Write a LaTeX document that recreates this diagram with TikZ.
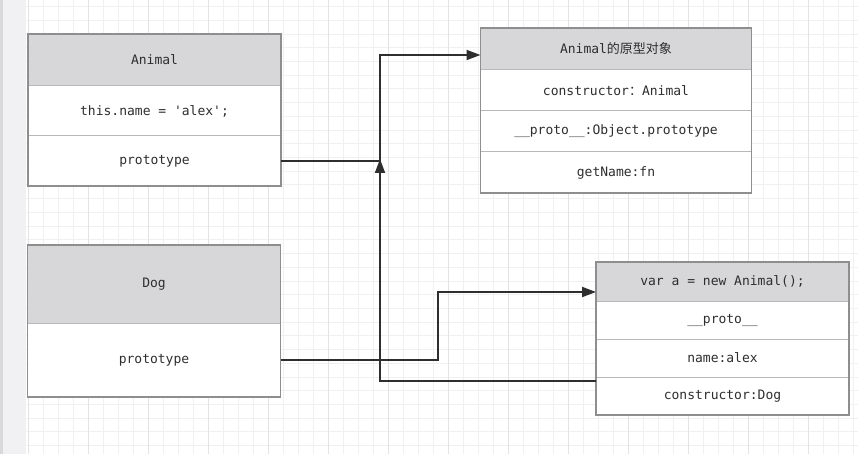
\documentclass[tikz,border=0pt]{standalone}
\usepackage{fontspec}
\setmonofont{DejaVu Sans Mono}
\newfontfamily\cjk{Noto Sans CJK SC}
\usepackage{xcolor}
\usetikzlibrary{positioning,arrows.meta}

\definecolor{hdrgray}{HTML}{D7D6D8}
\definecolor{edgegray}{HTML}{8E8E8E}
\definecolor{sepgray}{HTML}{B8B8B8}
\definecolor{inkgray}{HTML}{2E2E2E}
\definecolor{gridminor}{HTML}{F0F0F0}
\definecolor{gridmajor}{HTML}{E3E3E3}
\definecolor{stripgray}{HTML}{F1F1F3}

\begin{document}
\begin{tikzpicture}[
    x=1pt, y=-1pt,
    node distance=0pt,
    every node/.style={font=\ttfamily\fontsize{13}{15}\selectfont, text=inkgray, inner sep=0pt, outer sep=0pt},
    cell/.style={draw=sepgray, line width=1pt, fill=white, minimum width=#1, anchor=north},
    head/.style={cell=#1, fill=hdrgray},
    frame/.style={draw=edgegray, line width=1.6pt},
    link/.style={draw=inkgray, line width=1.8pt},
    tip/.style={-{Triangle[length=14pt,width=10pt]}}
]
    \useasboundingbox (0,0) rectangle (858,454);
    % background and grid
    \fill[white] (0,0) rectangle (858,454);
    \fill[stripgray] (0,0) rectangle (26,454);
    \fill[black!15] (0,0) rectangle (3,454);
    \foreach \gx in {28,43,...,853}
        \draw[gridminor, line width=0.8pt] (\gx,0) -- (\gx,454);
    \foreach \gy in {6.5,20.22,...,450}
        \draw[gridminor, line width=0.8pt] (26,\gy) -- (858,\gy);
    \foreach \gx in {28,88,...,808}
        \draw[gridmajor, line width=0.8pt] (\gx,0) -- (\gx,454);

    % Animal
    \node[head=253pt, minimum height=52pt] (animal) at (154.5,34) {Animal};
    \node[cell=253pt, minimum height=50pt, below=of animal] (animalName) {this.name = 'alex';};
    \node[cell=253pt, minimum height=50pt, below=of animalName] (animalProto) {prototype};
    \draw[frame] (animal.north west) rectangle (animalProto.south east);

    % Animal prototype object
    \node[head=271pt, minimum height=42pt] (proto) at (616,28) {Animal{\cjk 的原型对象}};
    \node[cell=271pt, minimum height=41pt, below=of proto] (protoCtor) {constructor{\cjk ：}Animal};
    \node[cell=271pt, minimum height=41pt, below=of protoCtor] (protoProto) {\_\_proto\_\_:Object.prototype};
    \node[cell=271pt, minimum height=41pt, below=of protoProto] (protoFn) {getName:fn};
    \draw[frame] (proto.north west) rectangle (protoFn.south east);

    % Dog
    \node[head=253pt, minimum height=78pt] (dog) at (154,245) {Dog};
    \node[cell=253pt, minimum height=74pt, below=of dog] (dogProto) {prototype};
    \draw[frame] (dog.north west) rectangle (dogProto.south east);

    % instance a
    \node[head=253pt, minimum height=39pt] (inst) at (722.5,262) {var a = new Animal();};
    \node[cell=253pt, minimum height=38pt, below=of inst] (instProto) {\_\_proto\_\_};
    \node[cell=253pt, minimum height=38pt, below=of instProto] (instName) {name:alex};
    \node[cell=253pt, minimum height=38pt, below=of instName] (instCtor) {constructor:Dog};
    \draw[frame] (inst.north west) rectangle (instCtor.south east);

    % connectors
    \coordinate (up) at (380,55);
    \coordinate (back) at (380,381);
    \coordinate (stop) at (380,159);
    \coordinate (step) at (438,292);
    \draw[link, tip] (animalProto.east) -| (up) -- (proto.west |- up);
    \draw[link, tip] (instCtor.west |- back) -| (stop);
    \draw[link, tip] (dogProto.east) -| (step) -- (inst.west |- step);
\end{tikzpicture}
\end{document}
